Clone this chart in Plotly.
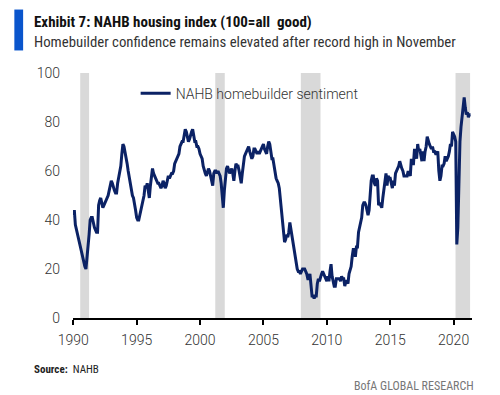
import plotly.graph_objects as go

years = list(range(1990, 2022))
hmi = {
    1990: [42, 44, 38, 36, 34, 33, 31, 29, 27, 25, 23, 21],
    1991: [20, 24, 29, 34, 40, 41, 41, 38, 37, 36, 35, 35],
    1992: [46, 48, 49, 47, 45, 46, 47, 48, 49, 50, 52, 55],
    1993: [56, 55, 53, 52, 51, 51, 55, 57, 60, 62, 67, 71],
    1994: [70, 68, 66, 63, 60, 57, 54, 52, 50, 49, 47, 44],
    1995: [41, 40, 40, 42, 44, 46, 49, 50, 54, 53, 55, 52],
    1996: [49, 54, 59, 61, 59, 58, 57, 56, 55, 55, 54, 53],
    1997: [54, 56, 55, 53, 54, 56, 58, 57, 58, 59, 59, 60],
    1998: [63, 64, 65, 66, 67, 70, 71, 72, 72, 74, 77, 76],
    1999: [73, 72, 73, 75, 76, 77, 74, 72, 72, 70, 70, 69],
    2000: [67, 66, 65, 62, 60, 59, 58, 60, 61, 60, 58, 57],
    2001: [54, 59, 60, 60, 59, 60, 59, 58, 55, 48, 45, 52],
    2002: [58, 61, 62, 60, 59, 60, 61, 59, 56, 60, 63, 62],
    2003: [62, 60, 57, 55, 59, 63, 66, 67, 68, 69, 70, 68],
    2004: [66, 65, 66, 69, 69, 68, 67, 68, 67, 68, 69, 70],
    2005: [71, 69, 68, 67, 70, 72, 71, 68, 65, 65, 62, 58],
    2006: [57, 56, 55, 53, 48, 44, 40, 36, 31, 32, 34, 33],
    2007: [35, 39, 36, 33, 30, 28, 24, 22, 20, 19, 19, 18],
    2008: [19, 20, 20, 20, 19, 18, 16, 16, 18, 14, 9, 9],
    2009: [8, 9, 9, 14, 16, 15, 17, 18, 19, 18, 17, 16],
    2010: [15, 17, 15, 19, 22, 17, 14, 13, 13, 16, 16, 16],
    2011: [16, 15, 17, 16, 16, 13, 15, 15, 14, 18, 20, 21],
    2012: [25, 28, 28, 25, 29, 29, 35, 37, 40, 41, 46, 47],
    2013: [47, 46, 44, 42, 44, 52, 56, 58, 58, 55, 54, 57],
    2014: [56, 46, 47, 46, 45, 49, 53, 55, 59, 54, 58, 57],
    2015: [57, 55, 53, 56, 54, 59, 60, 61, 62, 64, 62, 61],
    2016: [60, 58, 58, 58, 58, 60, 59, 58, 65, 63, 63, 69],
    2017: [67, 65, 71, 68, 69, 67, 64, 68, 64, 68, 70, 74],
    2018: [72, 71, 70, 69, 70, 68, 68, 67, 67, 68, 60, 56],
    2019: [58, 62, 62, 63, 66, 64, 65, 66, 68, 71, 70, 76],
    2020: [75, 74, 72, 30, 37, 58, 72, 78, 83, 85, 90, 86],
    2021: [83, 84, 82, 83, 83],
}
recessions = [(1990.55, 1991.25), (2001.2, 2001.95), (2007.95, 2009.5), (2020.15, 2021.3)]
x_ticks = [1990, 1995, 2000, 2005, 2010, 2015, 2020]
y_ticks = [0, 20, 40, 60, 80, 100]

dates, values = [], []
for y in years:
    for m, v in enumerate(hmi[y]):
        dates.append(y + m / 12)
        values.append(v)

NAVY = "#0b2265"
fig = go.Figure()
fig.add_trace(go.Scatter(x=dates, y=values, mode="lines", name="NAHB homebuilder sentiment",
                         line=dict(color=NAVY, width=3)))

for a, b in recessions:
    fig.add_shape(type="rect", xref="x", yref="y", x0=a, x1=b, y0=0, y1=100,
                  fillcolor="#d9d9d9", line_width=0, layer="below")

# blue accent bar next to the title
fig.add_shape(type="rect", xref="paper", yref="paper", x0=-0.147, x1=-0.125, y0=1.092, y1=1.259,
              fillcolor="#0a55cc", line_width=0)

TFONT = "Liberation Sans Narrow, Roboto Condensed, Roboto, sans-serif"
fig.add_annotation(text="<b>Exhibit 7: NAHB housing index (100=all  good)</b>", xref="paper", yref="paper",
                   x=-0.102, y=1.2085, xanchor="left", yanchor="middle", showarrow=False,
                   font=dict(family=TFONT, size=15, color="#111"))
fig.add_annotation(text="Homebuilder confidence remains elevated after record high in November", xref="paper",
                   yref="paper", x=-0.102, y=1.125, xanchor="left", yanchor="middle", showarrow=False,
                   font=dict(family=TFONT, size=14.8, color="#333"))
fig.add_annotation(text="<b>Source:</b>  NAHB", xref="paper", yref="paper",
                   x=-0.102, y=-0.2105, xanchor="left", yanchor="middle", showarrow=False,
                   font=dict(family=TFONT, size=11, color="#222"))
fig.add_annotation(text="BofA GLOBAL RESEARCH", xref="paper", yref="paper",
                   x=1.0108, y=-0.2757, xanchor="right", yanchor="middle", showarrow=False,
                   font=dict(family=TFONT, size=12, color="#777"))

# page body has an 8px margin, so the figure is 8px smaller and margins shifted accordingly
fig.update_layout(
    width=492, height=387,
    margin=dict(l=64.7, r=28.3, t=64.7, b=76.7),
    paper_bgcolor="white", plot_bgcolor="white",
    font=dict(family="Roboto, sans-serif", color="#333"),
    showlegend=True,
    legend=dict(x=0.157, y=0.916, xanchor="left", yanchor="middle", bgcolor="rgba(0,0,0,0)",
                font=dict(family="Roboto, sans-serif", size=14, color="#333", weight=300)),
    xaxis=dict(range=[1989.98, 2021.45], tickvals=x_ticks, showgrid=False, zeroline=False,
               showline=True, linecolor="black", linewidth=2, ticks="outside", ticklen=5,
               tickwidth=2, tickcolor="black", ticklabelstandoff=3,
               tickfont=dict(size=14, color="#333", weight=300)),
    yaxis=dict(range=[0, 100], tickvals=y_ticks, showgrid=False, zeroline=False, showline=False,
               ticks="", ticklabelstandoff=12, tickfont=dict(size=14, color="#333", weight=300)),
)

fig.write_html("out.html")
